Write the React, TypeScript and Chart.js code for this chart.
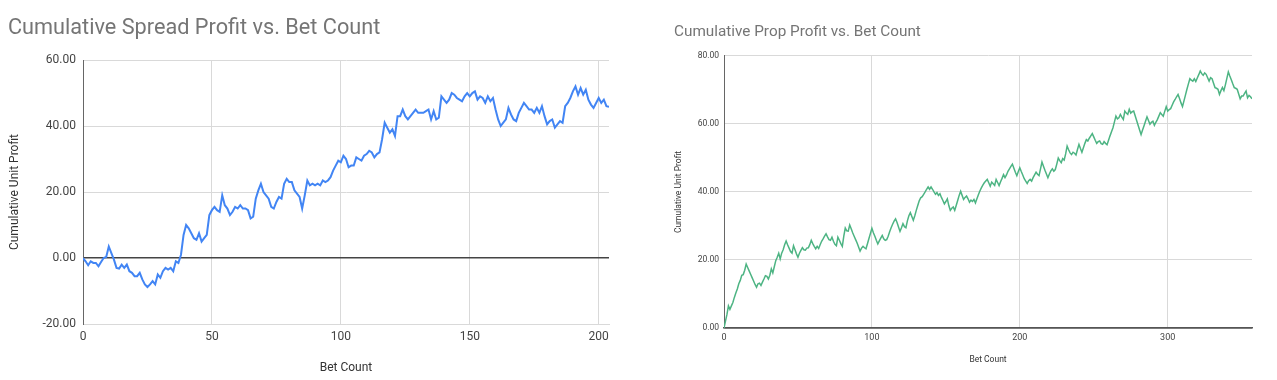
import React, { useEffect, useRef } from "react";
import { Chart, registerables } from "chart.js";

Chart.register(...registerables);

// ---------- Data ----------
const SPREAD_TITLE = "Cumulative Spread Profit vs. Bet Count";
const PROP_TITLE = "Cumulative Prop Profit vs. Bet Count";
const X_TITLE = "Bet Count";
const Y_TITLE = "Cumulative Unit Profit";

const SPREAD_PROFIT = [
  0, -1, -2.2, -1, -1.5, -1.5, -2.5, -1.2, 0, 0.3,
  3.5, 1.5, -0.5, -3, -3.2, -2, -3, -2, -4, -4.5,
  -5.5, -5.5, -4.5, -6.5, -8, -8.8, -8, -7, -8, -5,
  -6, -4, -3, -3.5, -3, -4, -1, -1.5, 1, 7,
  10, 9, 7.5, 6, 5.5, 7.5, 5, 6, 7, 13,
  14.5, 15.5, 14.5, 14, 19, 16, 15, 13, 14, 15.5,
  15, 16, 15, 15, 14.5, 12, 12.5, 18, 20.5, 22.5,
  20, 19, 18, 15.5, 15, 17, 18.5, 18, 22.5, 24,
  23, 23, 20.5, 19.5, 18.5, 15, 19, 23.5, 22, 22.5,
  22, 22.5, 22, 23.5, 23, 23.5, 24.5, 26.5, 28, 29.5,
  29, 31, 30, 27.5, 28, 28, 30.5, 30, 29.5, 31,
  31.5, 32.5, 32, 30.5, 31.5, 32, 36, 41, 39.5, 38,
  39, 37, 43, 43, 45, 43, 42, 43, 44, 45,
  44, 44, 44, 44.5, 45, 42, 44.5, 42, 42.5, 49,
  48, 47, 48, 50, 49.5, 48.5, 48, 47.5, 49, 50,
  49, 50, 50.5, 48, 49, 48.5, 47, 49, 47.5, 48.5,
  45, 42, 40, 41, 42, 45.5, 43.5, 42, 41.5, 44,
  45.5, 47, 46, 45, 45, 44, 45.5, 44, 46, 43,
  40.5, 41.5, 42, 39.5, 40.5, 41.5, 41, 46, 47, 48.5,
  50.5, 52, 49.5, 51.5, 49.5, 51, 48, 46.5, 45.5, 47,
  48.5, 47, 48, 46, 45.8,
];

const PROP_PROFIT = [
  0, 2, 4, 6.5, 5.5, 6.5, 7.5, 9, 10.3, 11.5,
  13, 14, 15.5, 15.7, 17, 18.8, 17.8, 16.8, 15.8, 14.8,
  13.8, 12.8, 12, 13, 13.2, 12.5, 13.5, 14.4, 15.4, 15.2,
  14.4, 15.5, 17.4, 16.2, 18, 19.8, 20.8, 22, 20.3, 22,
  23, 24.5, 25.6, 24.5, 23.5, 22.5, 22, 24.2, 23, 21.8,
  20.8, 22, 22.8, 23.6, 23, 22.9, 23.5, 23.6, 24.5, 25.8,
  24.8, 24, 23.3, 24, 23.4, 24.5, 25.5, 26.2, 27, 27.7,
  26.8, 26, 25.8, 26.7, 25.5, 24.6, 24.2, 26.7, 25.8, 24.8,
  24, 27, 29.4, 28.6, 28.5, 30.3, 29.2, 28, 27, 26,
  25, 23.8, 22.6, 23.5, 24, 23.6, 23.3, 24.8, 26.3, 27.8,
  29.3, 28, 27, 25.8, 24.7, 25.6, 26.4, 27.2, 26.2, 25.8,
  26, 27, 28.3, 29.5, 30.5, 31.4, 32.1, 31, 29.7, 28.4,
  29.5, 30.7, 29.8, 29.5, 31.5, 33, 33.9, 32.8, 31.7, 33,
  34.6, 36, 37.4, 38.3, 38.6, 39.3, 40, 40.8, 41.5, 40.8,
  41.5, 40.8, 40, 39.3, 39.8, 39, 39.5, 38.4, 37.5, 36.5,
  37.2, 38, 36, 34.6, 35.2, 35.6, 34.6, 36, 37.5, 39,
  40.2, 39, 37.8, 38.4, 38.8, 38, 37, 37.6, 37.2, 37.8,
  36.8, 38, 39.2, 40.3, 41.2, 42, 42.7, 43.2, 43.7, 42.7,
  41.7, 42.9, 42.4, 41.9, 43.7, 42.8, 41.9, 43, 44, 45.1,
  44.2, 45, 46.1, 46.8, 47.5, 48.2, 47, 45.8, 44.8, 46,
  47.1, 46, 45, 43.9, 43.2, 42.5, 43.3, 43.7, 43.2, 44.2,
  45, 45.8, 45.2, 44.8, 46.8, 48.8, 47.6, 46.4, 45.3, 44.2,
  45.3, 46.2, 46.8, 46.1, 46.6, 48.2, 50, 49.2, 48.6, 49.8,
  49.4, 51.2, 53.5, 52.4, 51.5, 51, 51.7, 51.4, 50.9, 52.5,
  54, 52.8, 51.7, 53, 54.3, 55.4, 55, 55.8, 56.5, 57.2,
  56.2, 55.2, 54.3, 54.8, 55, 54.2, 54, 54.8, 54.3, 53.9,
  55.2, 56.5, 57.7, 58.9, 60.6, 62.3, 61.5, 61.8, 62.8, 62,
  61.3, 63.8, 63.2, 62.8, 64.3, 63.2, 63.6, 63.8, 62.4, 61,
  59.6, 58.2, 56.9, 58.2, 59.5, 60.8, 62.1, 61, 59.9, 60.5,
  60.8, 59.6, 60.5, 61.3, 62.3, 63.3, 62.8, 62.3, 63.7, 65.1,
  63.8, 64.2, 64.5, 65.5, 66.5, 67.2, 68, 68.7, 67.5, 66.2,
  65.1, 66.8, 68.5, 70.2, 71.8, 73.3, 72.9, 72.6, 73.3, 72.5,
  73.5, 74.5, 75.6, 74.8, 74.3, 75, 74.6, 73.6, 72.6, 73.6,
  73.3, 72, 70.7, 70.5, 70.2, 68.7, 69.8, 70.7, 69.8, 71.5,
  73.4, 75.3, 74.1, 73, 71.8, 70.7, 70.5, 70.2, 68.8, 67.4,
  68.2, 68.2, 69, 69.7, 67.7, 68.4, 68, 67.4,
];

const SPREAD_X_TICKS = [0, 50, 100, 150, 200];
const SPREAD_Y_TICKS = [-20, 0, 20, 40, 60];
const PROP_X_TICKS = [0, 100, 200, 300];
const PROP_Y_TICKS = [0, 20, 40, 60, 80];

const FONT = "Roboto, Arial, sans-serif";

type Spec = {
  left: number;
  width: number;
  height: number;
  title: string;
  values: number[];
  color: string;
  lineWidth: number;
  xTicks: number[];
  yTicks: number[];
  xMax: number;
  padLeft: number;
  padRight: number;
  titleSize: number;
  titlePadTop: number;
  titlePadBottom: number;
  yAxisWidth: number;
  xAxisHeight: number;
  yTickSize: number;
  yTickPad: number;
  xTickSize: number;
  xTickPad: number;
  axisTitleSize: number;
  xTitlePadBottom: number;
  xBorderColor: string;
  xBorderWidth: number;
};

function makeConfig(s: Spec): any {
  const points = s.values.map((v, i) => ({ x: i, y: v }));
  const yMin = s.yTicks[0];
  const yMax = s.yTicks[s.yTicks.length - 1];
  return {
    type: "line",
    data: {
      datasets: [
        {
          data: points,
          borderColor: s.color,
          borderWidth: s.lineWidth,
          pointRadius: 0,
          tension: 0,
          fill: false,
        },
      ],
    },
    options: {
      responsive: false,
      animation: false,
      layout: { padding: { left: s.padLeft, right: s.padRight, top: 0, bottom: 0 } },
      plugins: {
        legend: { display: false },
        tooltip: { enabled: false },
        title: {
          display: true,
          text: s.title,
          align: "start",
          color: "#757575",
          font: { family: FONT, size: s.titleSize, weight: "normal", lineHeight: 1.2 },
          padding: { top: s.titlePadTop, bottom: s.titlePadBottom },
        },
      },
      scales: {
        x: {
          type: "linear",
          min: 0,
          max: s.xMax,
          afterBuildTicks: (scale: any) => {
            scale.ticks = s.xTicks.map((v) => ({ value: v }));
          },
          afterFit: (scale: any) => {
            scale.height = s.xAxisHeight;
          },
          ticks: {
            color: "#444",
            font: { family: FONT, size: s.xTickSize },
            padding: s.xTickPad,
            maxRotation: 0,
            callback: (v: any) => String(v),
          },
          grid: { color: "#d9d9d9", lineWidth: 1, drawTicks: false },
          border: { color: s.xBorderColor, width: s.xBorderWidth },
          title: {
            display: true,
            text: X_TITLE,
            color: "#333",
            font: { family: FONT, size: s.axisTitleSize, lineHeight: 1.2 },
            padding: { top: 0, bottom: s.xTitlePadBottom },
          },
        },
        y: {
          type: "linear",
          min: yMin,
          max: yMax,
          afterBuildTicks: (scale: any) => {
            scale.ticks = s.yTicks.map((v) => ({ value: v }));
          },
          afterFit: (scale: any) => {
            scale.width = s.yAxisWidth;
          },
          ticks: {
            color: "#444",
            font: { family: FONT, size: s.yTickSize },
            padding: s.yTickPad,
            callback: (v: any) => Number(v).toFixed(2),
          },
          grid: {
            drawTicks: false,
            color: (ctx: any) => (ctx.tick && ctx.tick.value === 0 ? "#444" : "#d9d9d9"),
            lineWidth: (ctx: any) => (ctx.tick && ctx.tick.value === 0 ? 1.5 : 1),
          },
          border: { color: "#666", width: 1 },
          title: {
            display: true,
            text: Y_TITLE,
            color: "#333",
            font: { family: FONT, size: s.axisTitleSize, lineHeight: 1.2 },
            padding: { top: 0, bottom: 0 },
          },
        },
      },
    },
  };
}

function ChartBox({ spec }: { spec: Spec }) {
  const ref = useRef<HTMLCanvasElement | null>(null);
  useEffect(() => {
    if (!ref.current) return;
    const chart = new Chart(ref.current, makeConfig(spec));
    return () => chart.destroy();
  }, [spec]);
  return (
    <canvas
      ref={ref}
      width={spec.width}
      height={spec.height}
      style={{
        position: "absolute",
        left: spec.left,
        top: 0,
        width: spec.width,
        height: spec.height,
      }}
    />
  );
}

const SPREAD_SPEC: Spec = {
  left: 0,
  width: 640,
  height: 380,
  title: SPREAD_TITLE,
  values: SPREAD_PROFIT,
  color: "#4285F4",
  lineWidth: 2,
  xTicks: SPREAD_X_TICKS,
  yTicks: SPREAD_Y_TICKS,
  xMax: 204,
  padLeft: 8,
  padRight: 31,
  titleSize: 21.7,
  titlePadTop: 15.5,
  titlePadBottom: 18.5,
  yAxisWidth: 75,
  xAxisHeight: 56,
  yTickSize: 12,
  yTickPad: 7,
  xTickSize: 12,
  xTickPad: 6,
  axisTitleSize: 12,
  xTitlePadBottom: 4.5,
  xBorderColor: "#d9d9d9",
  xBorderWidth: 1,
};

const PROP_SPEC: Spec = {
  left: 640,
  width: 637,
  height: 380,
  title: PROP_TITLE,
  values: PROP_PROFIT,
  color: "#4DB483",
  lineWidth: 1.5,
  xTicks: PROP_X_TICKS,
  yTicks: PROP_Y_TICKS,
  xMax: 357,
  padLeft: 34,
  padRight: 25,
  titleSize: 15.3,
  titlePadTop: 23,
  titlePadBottom: 14.6,
  yAxisWidth: 50,
  xAxisHeight: 52,
  yTickSize: 8.5,
  yTickPad: 5,
  xTickSize: 9,
  xTickPad: 4,
  axisTitleSize: 8.5,
  xTitlePadBottom: 15,
  xBorderColor: "#555",
  xBorderWidth: 1.5,
};

export default function App() {
  return (
    <div
      style={{
        position: "fixed",
        left: 0,
        top: 0,
        width: 1277,
        height: 380,
        background: "#fff",
        overflow: "hidden",
      }}
    >
      <ChartBox spec={SPREAD_SPEC} />
      <ChartBox spec={PROP_SPEC} />
    </div>
  );
}
